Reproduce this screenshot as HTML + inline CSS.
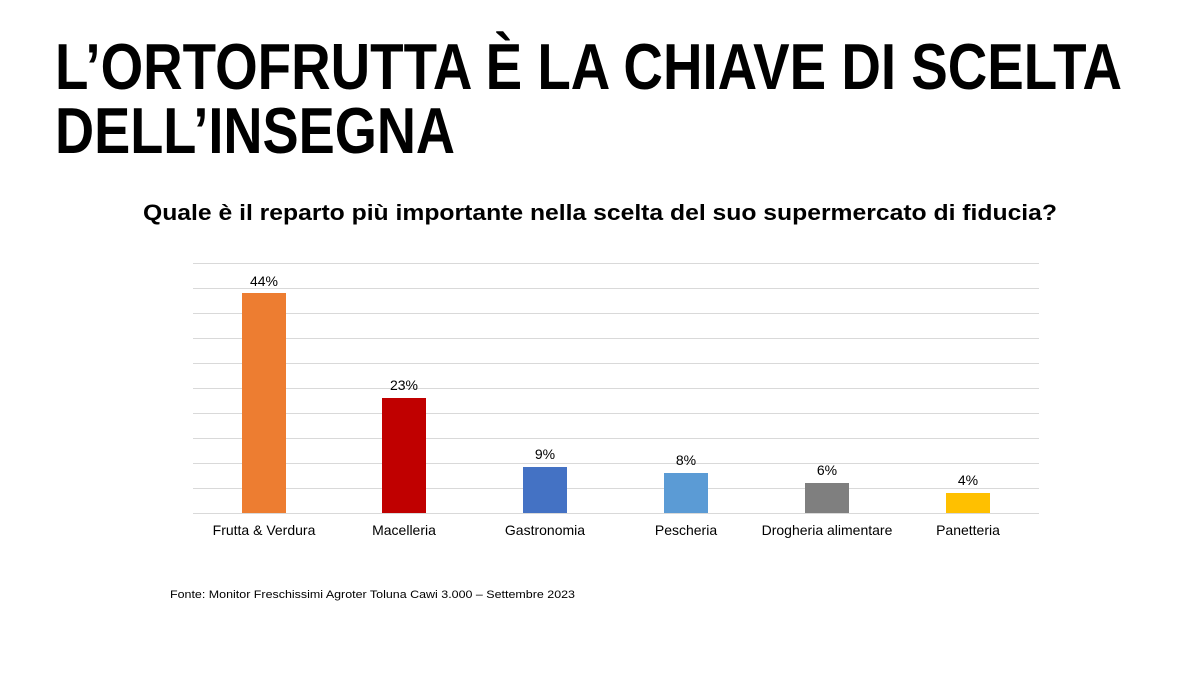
<!DOCTYPE html>
<html><head><meta charset="utf-8"><style>html,body{margin:0;padding:0;background:#fff}svg{display:block}</style></head>
<body>
<svg width="1200" height="675" xmlns="http://www.w3.org/2000/svg" font-family="Liberation Sans, Arial, sans-serif">
<rect width="1200" height="675" fill="#fff"/>
<text x="55" y="89" font-size="65" font-weight="bold" fill="#000" textLength="1067" lengthAdjust="spacingAndGlyphs">L’ORTOFRUTTA È LA CHIAVE DI SCELTA</text>
<text x="55" y="153" font-size="65" font-weight="bold" fill="#000" textLength="400" lengthAdjust="spacingAndGlyphs">DELL’INSEGNA</text>
<text x="600" y="220" font-size="22" font-weight="bold" fill="#000" text-anchor="middle" textLength="914" lengthAdjust="spacingAndGlyphs">Quale è il reparto più importante nella scelta del suo supermercato di fiducia?</text>
<g stroke="#d9d9d9" stroke-width="1">
<line x1="193" x2="1039" y1="263.5" y2="263.5"/><line x1="193" x2="1039" y1="288.5" y2="288.5"/>
<line x1="193" x2="1039" y1="313.5" y2="313.5"/><line x1="193" x2="1039" y1="338.5" y2="338.5"/>
<line x1="193" x2="1039" y1="363.5" y2="363.5"/><line x1="193" x2="1039" y1="388.5" y2="388.5"/>
<line x1="193" x2="1039" y1="413.5" y2="413.5"/><line x1="193" x2="1039" y1="438.5" y2="438.5"/>
<line x1="193" x2="1039" y1="463.5" y2="463.5"/><line x1="193" x2="1039" y1="488.5" y2="488.5"/>
<line x1="193" x2="1039" y1="513.5" y2="513.5"/>
</g>
<rect x="242" y="293" width="44" height="220" fill="#ed7d31"/>
<rect x="382" y="398" width="44" height="115" fill="#c00000"/>
<rect x="523" y="467" width="44" height="46" fill="#4472c4"/>
<rect x="664" y="473" width="44" height="40" fill="#5b9bd5"/>
<rect x="805" y="483" width="44" height="30" fill="#7f7f7f"/>
<rect x="946" y="493" width="44" height="20" fill="#ffc000"/>
<g font-size="14" fill="#000" text-anchor="middle">
<text x="264" y="286">44%</text><text x="404" y="390">23%</text><text x="545" y="459">9%</text>
<text x="686" y="465">8%</text><text x="827" y="475">6%</text><text x="968" y="485">4%</text>
<text x="264" y="535">Frutta &amp; Verdura</text><text x="404" y="535">Macelleria</text>
<text x="545" y="535">Gastronomia</text><text x="686" y="535">Pescheria</text>
<text x="827" y="535">Drogheria alimentare</text><text x="968" y="535">Panetteria</text>
</g>
<text x="170" y="598" font-size="11" fill="#000" textLength="405" lengthAdjust="spacingAndGlyphs">Fonte: Monitor Freschissimi Agroter Toluna Cawi 3.000 – Settembre 2023</text>
</svg>
</body></html>
